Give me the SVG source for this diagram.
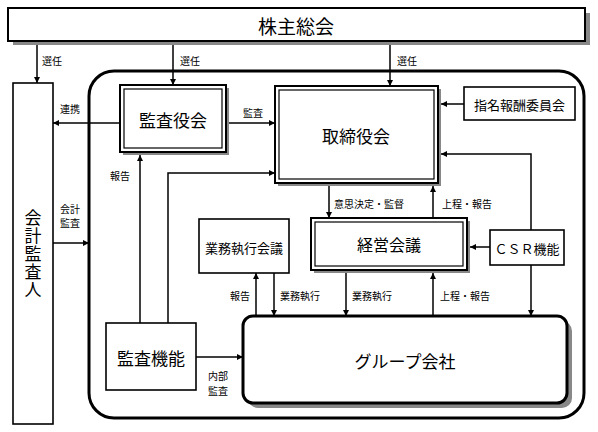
<svg xmlns="http://www.w3.org/2000/svg" width="598" height="432" viewBox="0 0 598 432">
<style>
text{font-family:"Noto Sans CJK JP","Noto Sans",sans-serif;fill:#000;dominant-baseline:central}
.big{font-size:17px}
.mid{font-size:13px}
.lbl{font-size:10px}
.box{fill:#fff;stroke:#000;stroke-width:1.6}
.outer{fill:#fff;stroke:#000;stroke-width:2}
.inner{fill:none;stroke:#000;stroke-width:1.2}
.shadow{fill:#888}
.conn{fill:none;stroke:#000;stroke-width:1.5}
.vert{writing-mode:vertical-rl;letter-spacing:1px;font-size:17px}
</style>
<defs>
<marker id="ah" viewBox="0 0 10 10" refX="10" refY="5" markerWidth="6" markerHeight="6" markerUnits="userSpaceOnUse" orient="auto">
<path d="M0,0 L10,5 L0,10 z" fill="#000"/>
</marker>
</defs>

<g id="container">
<rect x="89" y="71" width="495" height="347" rx="25" fill="#fff" stroke="#000" stroke-width="3"/>
</g>

<g id="shareholders">
<rect class="shadow" x="13" y="13" width="577" height="32"/>
<rect class="outer" x="8" y="8" width="577" height="33"/>
<text class="big" x="296" y="25" text-anchor="middle" style="font-size:19px">株主総会</text>
</g>

<g id="auditor">
<rect class="box" x="13" y="83" width="40" height="341"/>
<text class="vert" x="33" y="209">会計監査人</text>
</g>

<g id="kansayakukai">
<rect class="shadow" x="123" y="88" width="106" height="67"/>
<rect class="outer" x="120" y="85" width="106" height="67"/>
<rect class="inner" x="124" y="89" width="98" height="59"/>
<text class="big" x="173" y="119" text-anchor="middle">監査役会</text>
</g>

<g id="torishimariyakukai">
<rect class="shadow" x="278" y="89" width="163" height="97"/>
<rect class="outer" x="275" y="86" width="163" height="97"/>
<rect class="inner" x="279" y="90" width="155" height="89"/>
<text class="big" x="356" y="135" text-anchor="middle">取締役会</text>
</g>

<g id="shimei">
<rect class="box" x="464" y="87" width="111" height="33"/>
<text class="mid" x="519.5" y="104" text-anchor="middle">指名報酬委員会</text>
</g>

<g id="keieikaigi">
<rect class="shadow" x="314" y="221" width="156" height="52"/>
<rect class="outer" x="311" y="218" width="156" height="52"/>
<rect class="inner" x="315" y="222" width="148" height="44"/>
<text x="389" y="244" text-anchor="middle" style="font-size:16px">経営会議</text>
</g>

<g id="gyomu">
<rect class="box" x="199" y="219" width="90" height="54"/>
<text class="mid" x="244" y="247" text-anchor="middle">業務執行会議</text>
</g>

<g id="csr">
<rect class="box" x="490" y="230" width="74" height="35"/>
<text class="mid" x="527" y="248" text-anchor="middle">ＣＳＲ機能</text>
</g>

<g id="kansakino">
<rect class="box" x="106" y="323" width="90" height="67"/>
<text class="big" x="151" y="357" text-anchor="middle">監査機能</text>
</g>

<g id="group">
<rect class="shadow" x="248" y="321" width="324" height="87" rx="10"/>
<rect x="243" y="316" width="324" height="87" rx="10" fill="#fff" stroke="#000" stroke-width="3"/>
<text class="big" x="405" y="360" text-anchor="middle">グループ会社</text>
</g>

<g id="connectors">
<line class="conn" x1="37" y1="45" x2="37" y2="83" marker-end="url(#ah)"/>
<line class="conn" x1="173" y1="45" x2="173" y2="85" marker-end="url(#ah)"/>
<line class="conn" x1="390" y1="45" x2="390" y2="86" marker-end="url(#ah)"/>
<line class="conn" x1="120" y1="123" x2="53" y2="123" marker-end="url(#ah)"/>
<line class="conn" x1="229" y1="123" x2="275" y2="123" marker-end="url(#ah)"/>
<line class="conn" x1="464" y1="104" x2="441" y2="104" marker-end="url(#ah)"/>
<line class="conn" x1="140" y1="323" x2="140" y2="155" marker-end="url(#ah)"/>
<polyline class="conn" points="168,323 168,173 275,173" marker-end="url(#ah)"/>
<line class="conn" x1="53" y1="243" x2="89" y2="243" marker-end="url(#ah)"/>
<line class="conn" x1="329" y1="186" x2="329" y2="218" marker-end="url(#ah)"/>
<line class="conn" x1="433" y1="218" x2="433" y2="186" marker-end="url(#ah)"/>
<line class="conn" x1="490" y1="247" x2="470" y2="247" marker-end="url(#ah)"/>
<polyline class="conn" points="531,230 531,154 441,154" marker-end="url(#ah)"/>
<line class="conn" x1="531" y1="265" x2="531" y2="316" marker-end="url(#ah)"/>
<line class="conn" x1="256" y1="316" x2="256" y2="273" marker-end="url(#ah)"/>
<line class="conn" x1="274" y1="273" x2="274" y2="316" marker-end="url(#ah)"/>
<line class="conn" x1="346" y1="273" x2="346" y2="316" marker-end="url(#ah)"/>
<line class="conn" x1="433" y1="316" x2="433" y2="273" marker-end="url(#ah)"/>
<line class="conn" x1="196" y1="357" x2="243" y2="357" marker-end="url(#ah)"/>
<text class="lbl" x="42" y="60">選任</text>
<text class="lbl" x="180" y="60">選任</text>
<text class="lbl" x="397" y="60">選任</text>
<text class="lbl" x="60" y="108">連携</text>
<text class="lbl" x="243" y="112">監査</text>
<text class="lbl" x="110" y="175">報告</text>
<text class="lbl" x="60" y="208">会計</text>
<text class="lbl" x="60" y="222">監査</text>
<text class="lbl" x="334" y="203">意思決定・監督</text>
<text class="lbl" x="442" y="203">上程・報告</text>
<text class="lbl" x="230" y="295">報告</text>
<text class="lbl" x="280" y="295">業務執行</text>
<text class="lbl" x="352" y="295">業務執行</text>
<text class="lbl" x="440" y="295">上程・報告</text>
<text class="lbl" x="208" y="375">内部</text>
<text class="lbl" x="208" y="390">監査</text>
</g>
</svg>
